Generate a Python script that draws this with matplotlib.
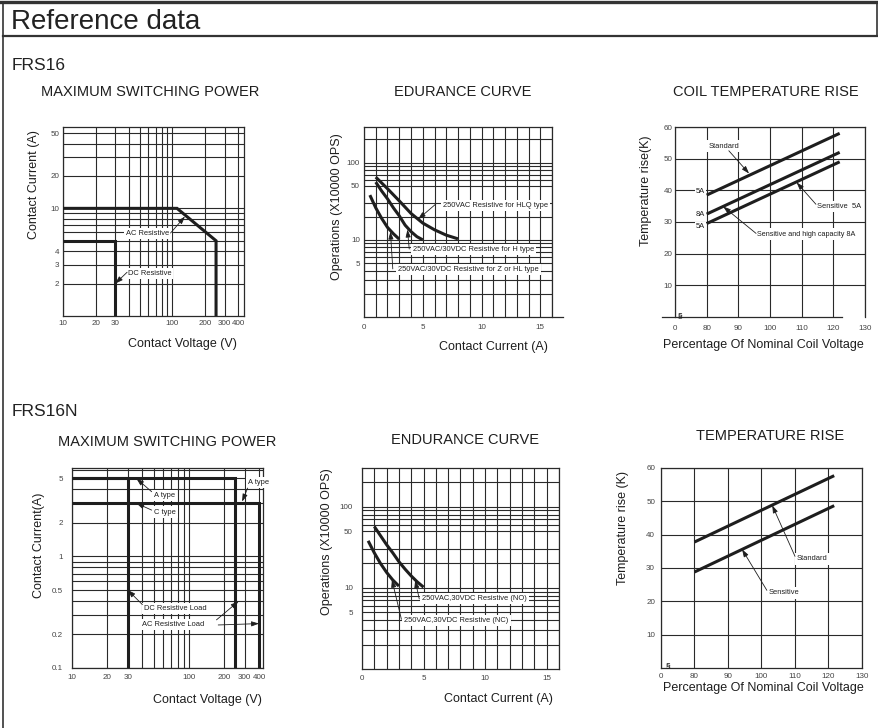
import matplotlib
matplotlib.use("Agg")
import matplotlib.pyplot as plt
from matplotlib.lines import Line2D

plt.rcParams['font.family'] = ['Liberation Sans', 'DejaVu Sans']

# ---- FRS16 maximum switching power
frs16_ac_v = [10, 110, 250, 250]
frs16_ac_i = [10, 10, 5, 1]
frs16_dc_v = [10, 30, 30]
frs16_dc_i = [5, 5, 1]

# ---- FRS16 endurance curve (x10000 ops vs contact current)
hlq_i = [1, 2, 3, 4, 5, 6, 7, 8]
hlq_ops = [65, 46, 32, 22, 16.5, 13.5, 11.5, 10.3]
h_i = [1, 1.5, 2, 2.5, 3, 3.5, 4, 4.5, 5]
h_ops = [56, 43, 34, 26, 20.5, 15.5, 12.8, 11, 10]
zhl_i = [0.5, 1, 1.5, 2, 2.5, 3]
zhl_ops = [38, 26, 19, 14.5, 12, 10.2]

# ---- FRS16 coil temperature rise
coil_pct = [80, 122]
std_5a = [38.5, 58]
sens_8a = [32.5, 52]
sens_5a = [29.5, 49]

# ---- FRS16N maximum switching power
a_dc_v = [10, 30, 30]
a_dc_i = [5, 5, 0.1]
a_ac_v = [10, 250, 250]
a_ac_i = [5, 5, 0.1]
c_v = [10, 400, 400]
c_i = [3, 3, 0.1]

# ---- FRS16N endurance curve
no_i = [1, 1.5, 2, 2.5, 3, 3.5, 4, 4.5, 5]
no_ops = [57, 44, 34, 27, 21, 17, 14, 11.8, 10.2]
nc_i = [0.5, 1, 1.5, 2, 2.5, 3]
nc_ops = [38, 27, 20, 15.5, 12.5, 10.5]

# ---- FRS16N temperature rise
n_pct = [80, 121.7]
n_std = [37.8, 57.7]
n_sens = [28.8, 48.7]

# tick / grid positions
sw_x_grid = [20, 30, 40, 50, 60, 70, 80, 90, 100, 200, 300, 400]
sw_x_lab = {10: '10', 20: '20', 30: '30', 100: '100', 200: '200', 300: '300', 400: '400'}
end_y_grid = [2, 3, 4, 5, 6, 7, 8, 9, 10, 20, 30, 50, 60, 70, 80, 90, 100, 200]
end_y_lab = {5: '5', 10: '10', 50: '50', 100: '100'}
pct_x_grid = [80, 90, 100, 110, 120, 130]
pct_x_lab = {70: '0', 80: '80', 90: '90', 100: '100', 110: '110', 120: '120', 130: '130'}
temp_y_grid = [10, 20, 30, 40, 50, 60]
temp_y_lab = {10: '10', 20: '20', 30: '30', 40: '40', 50: '50', 60: '60'}

W, H = 879, 728
DARK = '#1e1e1e'
GRID = '#2a2a2a'
TICK = '#444444'

fig = plt.figure(figsize=(W / 100, H / 100), dpi=100)


def rect(l, t, r, b):
    return [l / W, 1 - b / H, (r - l) / W, (b - t) / H]


def fpos(x, y):
    return (x / W, 1 - y / H)


def setup(ax, xgrid, xlab, ygrid, ylab, xpad=3, ypad=3):
    xs = sorted(set(xgrid) | set(xlab))
    ys = sorted(set(ygrid) | set(ylab))
    ax.set_xticks(xs)
    ax.set_xticklabels([xlab.get(v, '') for v in xs])
    ax.set_yticks(ys)
    ax.set_yticklabels([ylab.get(v, '') for v in ys])
    ax.minorticks_off()
    ax.tick_params(length=0, labelsize=5.8, labelcolor=TICK)
    ax.tick_params(axis='x', pad=xpad)
    ax.tick_params(axis='y', pad=ypad)
    ax.grid(True, color=GRID, lw=0.8)
    ax.set_axisbelow(True)
    for s in ax.spines.values():
        s.set_color(GRID)
        s.set_linewidth(0.9)


def labels(ax, title, tpos, xl, xpos, yl, ypos):
    fig.text(*fpos(*tpos), title, ha='center', va='center', fontsize=10.5, color=DARK)
    ax.set_xlabel(xl, fontsize=9, color=DARK)
    ax.xaxis.set_label_coords(*fpos(*xpos), transform=fig.transFigure)
    ax.xaxis.label.set_va('center')
    ax.set_ylabel(yl, fontsize=9, color=DARK)
    ax.yaxis.set_label_coords(*fpos(*ypos), transform=fig.transFigure)
    ax.yaxis.label.set_va('center')


def note(ax, text, pos, start, tip, size=5.4):
    ax.text(pos[0], pos[1], text, fontsize=size, color=DARK, ha='left', va='center', zorder=6,
            bbox=dict(facecolor='white', edgecolor='none', pad=1.5))
    ax.annotate('', xy=tip, xytext=start, zorder=7,
                arrowprops=dict(arrowstyle='-|>,head_length=0.45,head_width=0.15',
                                color=DARK, lw=0.6, shrinkA=0, shrinkB=0))


thick = dict(color=DARK, lw=2.2, solid_capstyle='butt', solid_joinstyle='miter', zorder=5)

# ---------------- FRS16 : maximum switching power
ax1 = fig.add_axes(rect(63, 127, 244, 316))
ax1.set_xscale('log')
ax1.set_yscale('log')
ax1.set_xlim(10, 450)
ax1.set_ylim(1, 57)
setup(ax1, sw_x_grid, sw_x_lab, [2, 3, 4, 5, 6, 7, 8, 9, 10, 20, 30, 40, 50],
      {2: '2', 3: '3', 4: '4', 10: '10', 20: '20', 50: '50'}, xpad=3, ypad=2.5)
ax1.plot(frs16_ac_v, frs16_ac_i, **thick)
ax1.plot(frs16_dc_v, frs16_dc_i, **thick)
note(ax1, 'AC Resistive', (38, 5.8), (96, 5.9), (130, 8.4))
note(ax1, 'DC Resistive', (39, 2.5), (38.5, 2.55), (30, 2.0))
labels(ax1, 'MAXIMUM SWITCHING POWER', (150, 92), 'Contact Voltage (V)', (182, 344),
       'Contact Current (A)', (34, 185))

# ---------------- FRS16 : endurance curve
ax2 = fig.add_axes(rect(364, 127, 552, 317))
ax2.set_yscale('log')
ax2.set_xlim(0, 16)
ax2.set_ylim(1, 290)
setup(ax2, list(range(0, 17)), {0: '0', 5: '5', 10: '10', 15: '15'}, end_y_grid, end_y_lab,
      xpad=5, ypad=3)
ax2.spines['bottom'].set_visible(False)
ax2.add_line(Line2D([0, 1.06], [0, 0], transform=ax2.transAxes, color=GRID, lw=0.9, clip_on=False))
ax2.plot(hlq_i, hlq_ops, **thick)
ax2.plot(h_i, h_ops, **thick)
ax2.plot(zhl_i, zhl_ops, **thick)
note(ax2, '250VAC Resistive for HLQ type', (6.7, 28), (6.1, 29), (4.6, 18.5))
note(ax2, '250VAC/30VDC Resistive for H type', (4.15, 7.5), (3.85, 7.6), (3.7, 13.6))
note(ax2, '250VAC/30VDC Resistive for Z or HL type', (2.9, 4.1), (2.45, 4.2), (2.25, 12.8))
labels(ax2, 'EDURANCE CURVE', (463, 92), 'Contact Current (A)', (493, 347),
       'Operations (X10000 OPS)', (337, 207))

# ---------------- FRS16 : coil temperature rise
ax3 = fig.add_axes(rect(675, 127, 865, 317))
ax3.set_xlim(70, 130)
ax3.set_ylim(0, 60)
setup(ax3, pct_x_grid, pct_x_lab, temp_y_grid, temp_y_lab, xpad=5.5, ypad=2)
ax3.spines['bottom'].set_visible(False)
ax3.add_line(Line2D([-0.07, 0.88], [0, 0], transform=ax3.transAxes, color=GRID, lw=0.9, clip_on=False))
ax3.text(71.5, 0.5, '§', fontsize=6, fontweight='bold', color=DARK, ha='center', va='center')
ax3.plot(coil_pct, std_5a, **thick)
ax3.plot(coil_pct, sens_8a, **thick)
ax3.plot(coil_pct, sens_5a, **thick)
for txt, yy in [('5A', 39.5), ('8A', 32.3), ('5A', 28.5)]:
    ax3.text(76.6, yy, txt, fontsize=5.4, color=DARK, ha='left', va='center',
             bbox=dict(facecolor='white', edgecolor='none', pad=0.8))
note(ax3, 'Standard', (80.6, 54), (87, 52.5), (93.4, 45.3))
note(ax3, 'Sensitive  5A', (114.7, 34.8), (114.5, 35.6), (108.4, 42.5))
note(ax3, 'Sensitive and high capacity 8A', (95.8, 26.2), (95.6, 26.4), (85.2, 34.9), size=5.2)
labels(ax3, 'COIL TEMPERATURE RISE', (766, 92), 'Percentage Of Nominal Coil Voltage', (763, 345),
       'Temperature rise(K)', (646, 191))

# ---------------- FRS16N : maximum switching power
ax4 = fig.add_axes(rect(72, 468, 263, 668))
ax4.set_xscale('log')
ax4.set_yscale('log')
ax4.set_xlim(10, 430)
ax4.set_ylim(0.1, 6.2)
setup(ax4, sw_x_grid, sw_x_lab,
      [0.2, 0.3, 0.4, 0.5, 0.6, 0.7, 0.8, 0.9, 1, 2, 3, 4, 5, 6],
      {0.1: '0.1', 0.2: '0.2', 0.5: '0.5', 1: '1', 2: '2', 5: '5'}, xpad=4.5, ypad=6.5)
ax4.plot(a_dc_v, a_dc_i, **thick)
ax4.plot(a_ac_v, a_ac_i, **thick)
ax4.plot(c_v, c_i, **thick)
note(ax4, 'A type', (50, 3.5), (48, 3.8), (35.5, 5.0))
note(ax4, 'C type', (50, 2.5), (48, 2.6), (35.5, 3.0))
note(ax4, 'A type', (322, 4.6), (318, 4.1), (285, 3.1))
note(ax4, 'DC Resistive Load', (41, 0.344), (40, 0.37), (30, 0.5))
note(ax4, 'AC Resistive Load', (40, 0.244), (172, 0.27), (265, 0.395))
ax4.annotate('', xy=(398, 0.25), xytext=(178, 0.243), zorder=7,
             arrowprops=dict(arrowstyle='-|>,head_length=0.45,head_width=0.15',
                             color=DARK, lw=0.6, shrinkA=0, shrinkB=0))
labels(ax4, 'MAXIMUM SWITCHING POWER', (167, 442), 'Contact Voltage (V)', (207, 700),
       'Contact Current(A)', (39, 545))

# ---------------- FRS16N : endurance curve
ax5 = fig.add_axes(rect(362, 468, 559, 669))
ax5.set_yscale('log')
ax5.set_xlim(0, 16)
ax5.set_ylim(1, 300)
setup(ax5, list(range(0, 17)), {0: '0', 5: '5', 10: '10', 15: '15'}, end_y_grid, end_y_lab,
      xpad=4.5, ypad=6.5)
ax5.plot(no_i, no_ops, **thick)
ax5.plot(nc_i, nc_ops, **thick)
note(ax5, '250VAC,30VDC Resistive (NO)', (4.85, 7.4), (4.65, 7.3), (4.32, 12.4))
note(ax5, '250VAC,30VDC Resistive (NC)', (3.45, 4.0), (3.2, 4.1), (2.43, 12.6))
labels(ax5, 'ENDURANCE CURVE', (465, 440), 'Contact Current (A)', (498, 699),
       'Operations (X10000 OPS)', (327, 542))

# ---------------- FRS16N : temperature rise
ax6 = fig.add_axes(rect(661, 468, 862, 668))
ax6.set_xlim(70, 130)
ax6.set_ylim(0, 60)
setup(ax6, pct_x_grid, pct_x_lab, temp_y_grid, temp_y_lab, xpad=3.5, ypad=4.3)
ax6.text(72.2, 0.8, '§', fontsize=6, fontweight='bold', color=DARK, ha='center', va='center')
ax6.plot(n_pct, n_std, **thick)
ax6.plot(n_pct, n_sens, **thick)
note(ax6, 'Standard', (110.5, 32.7), (110, 33.5), (103.2, 48.8))
note(ax6, 'Sensitive', (102.2, 22.5), (101.6, 23.3), (94.2, 35.6))
labels(ax6, 'TEMPERATURE RISE', (770, 436), 'Percentage Of Nominal Coil Voltage', (763, 688),
       'Temperature rise (K)', (623, 528))

# ---------------- page frame and headings
fig.add_artist(Line2D([0, 1], [fpos(0, 1.5)[1]] * 2, transform=fig.transFigure, color='#333333', lw=2.4))
fig.add_artist(Line2D([fpos(3, 0)[0], 1], [fpos(0, 36)[1]] * 2, transform=fig.transFigure, color='#333333', lw=1.6))
fig.add_artist(Line2D([fpos(3, 0)[0]] * 2, [fpos(0, 3)[1], 0], transform=fig.transFigure, color='#333333', lw=1.2))
fig.add_artist(Line2D([fpos(877, 0)[0]] * 2, [fpos(0, 3)[1], fpos(0, 36)[1]], transform=fig.transFigure, color='#333333', lw=1.2))
fig.text(*fpos(11, 22), 'Reference data', fontsize=20, color='#222222', ha='left', va='center')
fig.text(*fpos(12, 65), 'FRS16', fontsize=12.5, color='#222222', ha='left', va='center')
fig.text(*fpos(12, 411), 'FRS16N', fontsize=12.5, color='#222222', ha='left', va='center')

fig.savefig('out.png', dpi=100)
